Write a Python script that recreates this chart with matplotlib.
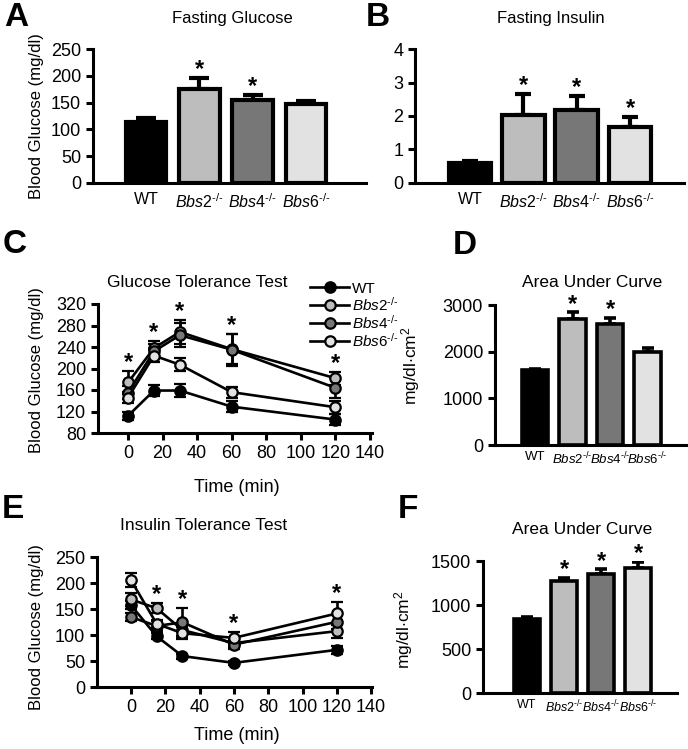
import numpy as np
import matplotlib
matplotlib.use('Agg')
import matplotlib.pyplot as plt
from matplotlib.lines import Line2D

plt.rcParams['font.family'] = ['Liberation Sans', 'DejaVu Sans']
plt.rcParams['mathtext.fontset'] = 'custom'
plt.rcParams['mathtext.rm'] = 'Liberation Sans'
plt.rcParams['mathtext.it'] = 'Liberation Sans:italic'

# Grupos e cores
grupos = ['WT', 'Bbs2', 'Bbs4', 'Bbs6']
rotulos = ['WT', r'$\mathit{Bbs2}^{\mathit{‐/‐}}$', r'$\mathit{Bbs4}^{\mathit{‐/‐}}$',
           r'$\mathit{Bbs6}^{\mathit{‐/‐}}$']
cores = ['black', '#bdbdbd', '#777777', '#e2e2e2']

# A - glicose em jejum
glicose_media = [114, 175, 155, 148]
glicose_erro = [8, 21, 9, 5]
glicose_sig = [False, True, True, False]

# B - insulina em jejum
insulina_media = [0.58, 2.03, 2.18, 1.68]
insulina_erro = [0.07, 0.64, 0.43, 0.30]
insulina_sig = [False, True, True, True]

# C - GTT
tempo = [0, 15, 30, 60, 120]
gtt_media = {
    'WT':   [112, 159, 159, 129, 105],
    'Bbs2': [174, 238, 268, 236, 182],
    'Bbs4': [155, 232, 262, 235, 164],
    'Bbs6': [146, 224, 207, 156, 128],
}
gtt_erro = {
    'WT':   [8, 10, 12, 10, 10],
    'Bbs2': [21, 14, 22, 28, 12],
    'Bbs4': [12, 14, 22, 30, 18],
    'Bbs6': [10, 12, 12, 10, 12],
}
gtt_sig = [0, 15, 30, 60, 120]

# D - AUC GTT
auc_gtt_media = [1610, 2710, 2600, 2000]
auc_gtt_erro = [20, 130, 125, 75]
auc_gtt_sig = [False, True, True, False]

# E - ITT
itt_media = {
    'WT':   [158, 98, 60, 47, 72],
    'Bbs2': [169, 152, 110, 85, 108],
    'Bbs4': [135, 118, 125, 82, 126],
    'Bbs6': [206, 122, 104, 95, 142],
}
itt_erro = {
    'WT':   [8, 6, 5, 4, 7],
    'Bbs2': [12, 10, 12, 8, 14],
    'Bbs4': [8, 10, 28, 8, 14],
    'Bbs6': [13, 8, 12, 12, 22],
}
itt_sig = [15, 30, 60, 120]

# F - AUC ITT
auc_itt_media = [845, 1275, 1355, 1420]
auc_itt_erro = [25, 30, 50, 70]
auc_itt_sig = [False, True, True, True]

W, H = 688, 749
fig = plt.figure(figsize=(W / 100, H / 100), dpi=100)


def retangulo(x0, x1, ytopo, ybase):
    return [x0 / W, 1 - ybase / H, (x1 - x0) / W, (ybase - ytopo) / H]


def texto(x, y, s, **kw):
    fig.text(x / W, 1 - y / H, s, **kw)


def estilo(ax, lw=2.2):
    for lado in ['top', 'right']:
        ax.spines[lado].set_visible(False)
    for lado in ['left', 'bottom']:
        ax.spines[lado].set_linewidth(lw)
    ax.tick_params(width=lw, length=5, direction='out')


def estrela(ax, x, y, dy=6, tam=17):
    ax.annotate('*', (x, y), xytext=(0, dy), textcoords='offset points',
                ha='center', va='center', fontsize=tam, fontweight='bold',
                clip_on=False)


def barras(ax, media, erro, sig, largura, lw, cap, tam_rot, tam_tick):
    x = np.arange(len(media))
    ax.errorbar(x, media, yerr=[np.zeros(len(erro)), erro], fmt='none',
                ecolor='black', elinewidth=lw, capsize=cap, capthick=lw, zorder=1)
    ax.bar(x, media, width=largura, color=cores, edgecolor='black',
           linewidth=lw, zorder=2)
    for i in range(len(media)):
        if sig[i]:
            estrela(ax, x[i], media[i] + erro[i])
    ax.set_xticks(x)
    ax.set_xticklabels(rotulos, fontsize=tam_rot)
    ax.tick_params(axis='x', length=0, pad=7)
    ax.tick_params(axis='y', labelsize=tam_tick)


def linhas(ax, media, erro):
    for g, c in zip(grupos, cores):
        ax.errorbar(tempo, media[g], yerr=erro[g], fmt='-o', color='black',
                    mfc=c, mec='black', ms=7.5, mew=1.6, lw=1.9,
                    elinewidth=1.9, capsize=4, capthick=1.9)
    ax.set_xticks(np.arange(0, 141, 20))
    ax.tick_params(labelsize=13)


# A
axA = fig.add_axes(retangulo(93, 366, 49.3, 182.7))
estilo(axA)
barras(axA, glicose_media, glicose_erro, glicose_sig, 0.76, 3, 7, 11.5, 13)
axA.set_xlim(-0.99, 4.12)
axA.set_ylim(0, 250)
axA.set_yticks(np.arange(0, 251, 50))

# B
axB = fig.add_axes(retangulo(415, 684, 49.3, 182.7))
estilo(axB)
barras(axB, insulina_media, insulina_erro, insulina_sig, 0.8, 3, 6, 11.5, 13)
axB.set_xlim(-1.03, 4.01)
axB.set_ylim(0, 4)
axB.set_yticks(np.arange(0, 5, 1))

# C
axC = fig.add_axes(retangulo(98, 372, 304, 433))
estilo(axC)
linhas(axC, gtt_media, gtt_erro)
for t in gtt_sig:
    i = tempo.index(t)
    topo = max(gtt_media[g][i] + gtt_erro[g][i] for g in grupos)
    estrela(axC, t, topo)
axC.set_xlim(-17.4, 141.2)
axC.set_ylim(80, 320)
axC.set_yticks(np.arange(80, 321, 40))

# D
axD = fig.add_axes(retangulo(495, 687, 305, 445))
estilo(axD)
barras(axD, auc_gtt_media, auc_gtt_erro, auc_gtt_sig, 0.7, 2.6, 4.5, 9.5, 13)
axD.set_xlim(-1.07, 4.05)
axD.set_ylim(0, 3000)
axD.set_yticks(np.arange(0, 3001, 1000))
axD.tick_params(axis='x', pad=4)

# E
axE = fig.add_axes(retangulo(97, 372, 557.3, 687.3))
estilo(axE)
linhas(axE, itt_media, itt_erro)
for t in itt_sig:
    i = tempo.index(t)
    topo = max(itt_media[g][i] + itt_erro[g][i] for g in grupos)
    estrela(axE, t, topo)
axE.set_xlim(-19.8, 140.5)
axE.set_ylim(0, 250)
axE.set_yticks(np.arange(0, 251, 50))

# F
axF = fig.add_axes(retangulo(483, 677, 561, 693.3))
estilo(axF)
barras(axF, auc_itt_media, auc_itt_erro, auc_itt_sig, 0.7, 2.6, 4.5, 9, 13)
axF.set_xlim(-1.19, 4.05)
axF.set_ylim(0, 1500)
axF.set_yticks(np.arange(0, 1501, 500))
axF.tick_params(axis='x', pad=4)

# legenda do GTT
alcas = [Line2D([], [], color='black', lw=1.9, marker='o', ms=7.5, mfc=c,
                mec='black', mew=1.6) for c in cores]
fig.legend(alcas, rotulos, loc='upper left', bbox_to_anchor=(302 / W, 1 - 274 / H),
           frameon=False, fontsize=11, handlelength=2.6, labelspacing=0.0,
           handletextpad=0.15, borderpad=0)

# letras dos painéis
for letra, x, y in [('A', 4, 26), ('B', 366, 26), ('C', 3, 253),
                    ('D', 453, 254), ('E', 2, 518), ('F', 398, 518)]:
    texto(x, y, letra, fontsize=24, fontweight='bold', va='baseline')

# títulos
texto(232, 18, 'Fasting Glucose', fontsize=12, ha='center', va='center')
texto(551, 18, 'Fasting Insulin', fontsize=12, ha='center', va='center')
texto(197, 282, 'Glucose Tolerance Test', fontsize=12.5, ha='center', va='center')
texto(592, 282, 'Area Under Curve', fontsize=12.5, ha='center', va='center')
texto(204, 526, 'Insulin Tolerance Test', fontsize=12.5, ha='center', va='center')
texto(582, 529, 'Area Under Curve', fontsize=12.5, ha='center', va='center')

# eixos
texto(37, 116, 'Blood Glucose (mg/dl)', fontsize=12, rotation=90, ha='center', va='center')
texto(37, 370, 'Blood Glucose (mg/dl)', fontsize=12, rotation=90, ha='center', va='center')
texto(37, 627, 'Blood Glucose (mg/dl)', fontsize=12, rotation=90, ha='center', va='center')
texto(411, 366, r'mg/dl$\cdot$cm$^2$', fontsize=12.5, rotation=90, ha='center', va='center')
texto(404, 630, r'mg/dl$\cdot$cm$^2$', fontsize=12.5, rotation=90, ha='center', va='center')
texto(237, 487, 'Time (min)', fontsize=13, ha='center', va='center')
texto(237, 735, 'Time (min)', fontsize=13, ha='center', va='center')

fig.savefig('out.png', dpi=100)
